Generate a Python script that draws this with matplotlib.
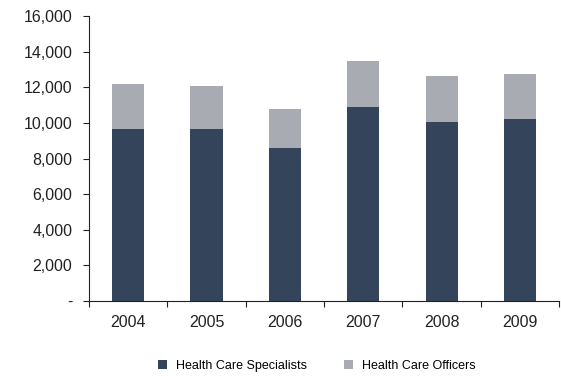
import matplotlib
matplotlib.use("Agg")
import matplotlib.pyplot as plt
from matplotlib.ticker import FuncFormatter, FixedLocator
import numpy as np

years = ["2004", "2005", "2006", "2007", "2008", "2009"]
specialists = [9650, 9650, 8580, 10880, 10040, 10210]
officers = [2520, 2410, 2190, 2580, 2580, 2520]

dark = "#34445a"
light = "#a9abb3"

plt.rcParams["font.family"] = ["Liberation Sans", "DejaVu Sans"]

fig = plt.figure(figsize=(5.61, 3.76), dpi=100)
ax = fig.add_axes([0.1586, 0.1995, 0.838, 0.7578])

x = np.arange(len(years))
w = 0.41
ax.bar(x, specialists, width=w, color=dark, label="Health Care Specialists", zorder=2)
ax.bar(x, officers, width=w, bottom=specialists, color=light,
       label="Health Care Officers", zorder=2)

ax.set_xlim(-0.5, len(years) - 0.5)
ax.set_ylim(0, 16000)
ax.set_yticks(np.arange(0, 16001, 2000))
ax.yaxis.set_major_formatter(FuncFormatter(lambda v, p: "-" if v == 0 else f"{int(v):,}"))

ax.set_xticks(x)
ax.set_xticklabels(years)
ax.xaxis.set_minor_locator(FixedLocator(np.arange(-0.5, len(years), 1.0)))
ax.tick_params(axis="x", which="major", length=0, pad=10, labelsize=11.5, colors="#222222")
ax.tick_params(axis="x", which="minor", length=4, width=0.8, direction="out", color="#222222")
ax.tick_params(axis="y", length=4, width=0.8, direction="out", pad=8, labelsize=11.5,
               colors="#222222")

for s in ("top", "right"):
    ax.spines[s].set_visible(False)
for s in ("left", "bottom"):
    ax.spines[s].set_linewidth(0.8)
    ax.spines[s].set_color("#222222")

leg = fig.legend(loc="center", bbox_to_anchor=(0.565, 0.027), ncol=2, frameon=False,
                 fontsize=9, handlelength=0.7, handleheight=0.7, handletextpad=0.7,
                 columnspacing=3.0)

fig.savefig("out.png", dpi=100)
